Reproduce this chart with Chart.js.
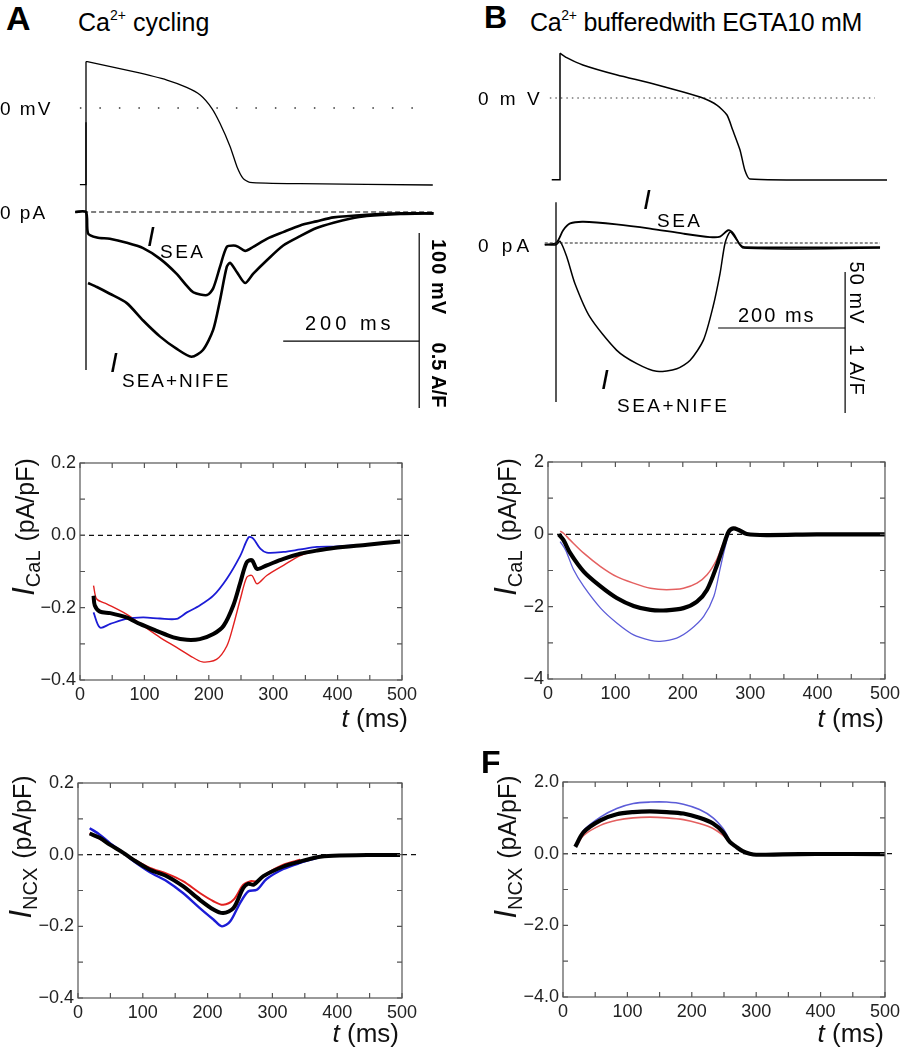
<!DOCTYPE html>
<html>
<head>
<meta charset="utf-8">
<script src="https://cdn.jsdelivr.net/npm/chart.js@4.4.1/dist/chart.umd.min.js"></script>
<style>
  body { margin: 0; background: #fff; }
  #page { position: relative; width: 904px; height: 1050px; overflow: hidden; font-family: Arial, "Liberation Sans", sans-serif; color: #000; }
  canvas { position: absolute; }
  .t { position: absolute; white-space: nowrap; line-height: 1; transform: translateY(-50%); }
  .rot { position: absolute; white-space: nowrap; line-height: 1; transform: translate(-50%, -50%) rotate(90deg); }
  .yt { position: absolute; white-space: nowrap; line-height: 1; transform: translate(-50%, -50%) rotate(-90deg); font-size: 25px; color: #111; }
  .yt i { font-size: 31px; }
  .yt sub { font-size: 20px; vertical-align: -6px; margin-right: 2px; }
  .xt { position: absolute; white-space: nowrap; line-height: 1; transform: translate(-100%, -50%); font-size: 26px; color: #111; }
  .big { font-weight: bold; font-size: 34px; }
  .head { font-size: 25px; }
  .head sup { font-size: 14px; vertical-align: 11px; }
  .lbl { font-size: 19px; }
  .ii { font-style: italic; font-size: 28px; }
</style>
</head>
<body>
<div id="page">
  <canvas id="topA" width="450" height="380" style="left:0;top:40px"></canvas>
  <canvas id="topB" width="454" height="380" style="left:450px;top:40px"></canvas>
  <canvas id="panelC" width="450" height="300" style="left:0;top:440px"></canvas>
  <canvas id="panelD" width="454" height="300" style="left:450px;top:440px"></canvas>
  <canvas id="panelE" width="450" height="290" style="left:0;top:760px"></canvas>
  <canvas id="panelF" width="454" height="290" style="left:450px;top:760px"></canvas>

  <div class="t big" style="left:6px;top:18px">A</div>
  <div class="t head" style="left:78px;top:21px">Ca<sup>2+</sup> cycling</div>
  <div class="t big" style="left:484px;top:17px;font-size:32px">B</div>
  <div class="t head" style="left:530px;top:21px;letter-spacing:-0.3px">Ca<sup>2+</sup> bufferedwith EGTA10 mM</div>

  <div class="t lbl" style="left:0;top:108px;letter-spacing:2px">0 mV</div>
  <div class="t lbl" style="left:0;top:212px;letter-spacing:2px">0 pA</div>
  <div class="t lbl" style="left:478px;top:98px;letter-spacing:3px">0 m V</div>
  <div class="t lbl" style="left:478px;top:245px;letter-spacing:4px">0 pA</div>

  <div class="t lbl" style="left:305px;top:323px;font-size:20px;letter-spacing:4px">200 ms</div>
  <div class="t lbl" style="left:738px;top:315px;font-size:20px;letter-spacing:2px">200 ms</div>
  <div class="rot lbl" style="left:439px;top:277px;font-weight:bold;font-size:20px;letter-spacing:1px">100 mV</div>
  <div class="rot lbl" style="left:439px;top:375px;font-weight:bold;font-size:20px">0.5 A/F</div>
  <div class="rot lbl" style="left:857px;top:293px;font-size:20px;letter-spacing:1px">50 mV</div>
  <div class="rot lbl" style="left:857px;top:370px;font-size:20px;letter-spacing:1px">1 A/F</div>

  <div class="t ii" style="left:147px;top:237px">I</div>
  <div class="t lbl" style="left:160px;top:251px;letter-spacing:2.5px">SEA</div>
  <div class="t ii" style="left:110px;top:363px">I</div>
  <div class="t lbl" style="left:122px;top:380px;letter-spacing:2px">SEA+NIFE</div>
  <div class="t ii" style="left:643px;top:200px">I</div>
  <div class="t lbl" style="left:657px;top:220px;letter-spacing:2.5px">SEA</div>
  <div class="t ii" style="left:601px;top:380px">I</div>
  <div class="t lbl" style="left:617px;top:405px;letter-spacing:2.5px">SEA+NIFE</div>

  <div class="yt" style="left:25px;top:527px"><i>I</i><sub>CaL</sub> (pA/pF)</div>
  <div class="yt" style="left:507px;top:527px"><i>I</i><sub>CaL</sub> (pA/pF)</div>
  <div class="yt" style="left:22px;top:847px"><i>I</i><sub>NCX</sub> (pA/pF)</div>
  <div class="yt" style="left:507px;top:847px"><i>I</i><sub>NCX</sub> (pA/pF)</div>
  <div class="xt" style="left:408px;top:718px"><i>t</i> (ms)</div>
  <div class="xt" style="left:884px;top:718px"><i>t</i> (ms)</div>
  <div class="xt" style="left:399px;top:1033px"><i>t</i> (ms)</div>
  <div class="xt" style="left:884px;top:1033px"><i>t</i> (ms)</div>
  <div class="t big" style="left:481px;top:762px;font-size:32px">F</div>
</div>

<script>
// ---- A: Ca2+ cycling, raw traces (ms, mV, A/F)
const apA_t = [-9, 0, 0, 2, 70, 119, 148, 168, 185, 197, 212, 222, 231, 241, 315, 510];
const apA_mV = [-71, -71, 43, 43, 33.6, 25.9, 19.1, 12, -0.3, -14.2, -35.8, -54.3, -65.1, -68.8, -70.1, -71.3];
const seaA_t = [-16, 0, 3, 16, 35, 60, 84, 109, 133, 148, 158, 178, 187, 197, 207, 217, 224, 234, 246, 266, 290, 315, 339, 364, 413, 462, 511];
const seaA_i = [0, 0, -0.16, -0.19, -0.20, -0.23, -0.27, -0.35, -0.46, -0.55, -0.60, -0.62, -0.57, -0.41, -0.26, -0.25, -0.26, -0.29, -0.26, -0.20, -0.15, -0.10, -0.07, -0.04, -0.02, -0.01, -0.01];
const nifeA_t = [3, 16, 35, 60, 84, 109, 133, 155, 172, 187, 197, 207, 212, 222, 234, 246, 266, 290, 315, 339, 364, 388, 413, 462, 511];
const nifeA_i = [-0.53, -0.56, -0.61, -0.68, -0.81, -0.93, -1.02, -1.08, -1.03, -0.88, -0.66, -0.41, -0.38, -0.45, -0.53, -0.46, -0.36, -0.25, -0.18, -0.12, -0.08, -0.05, -0.03, -0.015, -0.01];
const transA_i = [0.67, -1.18];

// ---- B: Ca2+ buffered with EGTA, raw traces
const apB_t = [-13, 0, 0, 10.5, 36, 90, 142, 194, 225, 247, 263, 272, 283.5, 291, 299, 515];
const apB_mV = [-73, -73, 40, 36, 29.5, 20.5, 13.4, 5.4, 0, -6.3, -15.2, -28.6, -46.4, -64.3, -72.3, -73.2];
const seaB_t = [-24, -6, 5, 16, 37, 89, 142, 194, 236, 252, 265, 273, 283.5, 291, 504];
const seaB_i = [-0.02, 0, 0.15, 0.23, 0.25, 0.22, 0.17, 0.11, 0.07, 0.075, 0.15, 0.11, -0.02, -0.05, -0.05];
const nifeB_t = [-24, -6, 0, 10.5, 23.6, 47, 89, 121, 152, 184, 205, 226, 241, 252, 260, 268, 278, 289, 504];
const nifeB_i = [-0.02, -0.02, 0.02, -0.16, -0.48, -0.87, -1.26, -1.42, -1.51, -1.48, -1.38, -1.14, -0.75, -0.36, 0, 0.13, 0.04, -0.06, -0.06];
const transB_i = [0.48, -1.87];

// ---- C: I_CaL, Ca2+ cycling (black = mean, blue, red)
const cBlack_t = [21, 23, 31, 47, 72, 93, 119, 145, 166, 186, 207, 223, 238, 249, 259, 267, 275, 290, 316, 342, 368, 394, 446, 497];
const cBlack_v = [-0.167, -0.194, -0.211, -0.215, -0.227, -0.245, -0.264, -0.282, -0.289, -0.287, -0.273, -0.250, -0.194, -0.130, -0.074, -0.069, -0.093, -0.083, -0.065, -0.051, -0.042, -0.035, -0.026, -0.017];
const cBlue_t = [21, 31, 47, 72, 98, 124, 150, 166, 186, 207, 228, 249, 262, 269, 280, 290, 316, 342, 368, 394, 446, 497];
const cBlue_v = [-0.213, -0.255, -0.245, -0.231, -0.227, -0.230, -0.231, -0.213, -0.194, -0.167, -0.120, -0.056, -0.005, -0.009, -0.037, -0.048, -0.046, -0.039, -0.032, -0.031, -0.026, -0.017];
const cRed_t = [21, 26, 42, 72, 98, 124, 150, 171, 190, 212, 228, 238, 249, 259, 267, 275, 290, 316, 342, 368, 394];
const cRed_v = [-0.139, -0.176, -0.190, -0.218, -0.250, -0.282, -0.310, -0.333, -0.350, -0.343, -0.306, -0.250, -0.176, -0.116, -0.111, -0.134, -0.111, -0.083, -0.056, -0.042, -0.035];

// ---- D: I_CaL, EGTA buffered
const dBlack_t = [16, 23, 33, 53, 78, 102, 127, 152, 176, 201, 221, 236, 250, 260, 268, 275, 283, 295, 325, 399, 500];
const dBlack_v = [0, -0.16, -0.52, -1.03, -1.44, -1.76, -1.98, -2.09, -2.10, -2.04, -1.86, -1.53, -0.89, -0.34, 0.07, 0.165, 0.12, 0.01, -0.02, 0, 0];
const dRed_t = [18, 23, 33, 53, 78, 102, 127, 152, 176, 201, 221, 236, 250, 260, 270, 278, 285];
const dRed_v = [0.09, 0.03, -0.16, -0.52, -0.89, -1.17, -1.35, -1.49, -1.53, -1.49, -1.35, -1.12, -0.71, -0.25, 0.12, 0.19, 0.07];
const dBlue_t = [18, 26, 38, 53, 78, 102, 127, 152, 166, 191, 211, 231, 246, 255, 263, 270, 278];
const dBlue_v = [-0.2, -0.43, -0.98, -1.44, -2.04, -2.45, -2.78, -2.93, -2.96, -2.87, -2.64, -2.27, -1.72, -0.98, -0.34, 0.07, 0.17];

// ---- E: I_NCX, Ca2+ cycling
const eBlack_t = [18, 33.5, 49, 70, 85, 111, 137, 162, 188, 209, 224, 240, 255, 263, 271, 286, 317, 343, 369, 394, 446, 497];
const eBlack_v = [0.059, 0.047, 0.028, 0.005, -0.014, -0.042, -0.060, -0.088, -0.126, -0.153, -0.163, -0.149, -0.093, -0.081, -0.084, -0.060, -0.033, -0.019, -0.007, -0.003, -0.001, -0.001];
const eRed_t = [18, 49, 85, 111, 137, 162, 188, 209, 224, 240, 255, 266, 276, 291, 317, 343];
const eRed_v = [0.060, 0.028, -0.012, -0.037, -0.053, -0.074, -0.107, -0.130, -0.140, -0.126, -0.084, -0.074, -0.074, -0.053, -0.028, -0.014];
const eBlue_t = [18, 33.5, 49, 70, 85, 111, 137, 162, 188, 209, 222, 235, 250, 263, 276, 291, 317, 343, 369];
const eBlue_v = [0.074, 0.056, 0.033, 0.005, -0.017, -0.049, -0.074, -0.107, -0.149, -0.181, -0.200, -0.186, -0.135, -0.102, -0.098, -0.068, -0.040, -0.023, -0.009];

// ---- F: I_NCX, EGTA buffered
const fBlack_t = [19, 32, 58, 83.5, 109, 135, 161, 187, 212, 233, 248.5, 259, 269, 279, 290, 300, 341, 393, 500];
const fBlack_v = [0.19, 0.60, 0.93, 1.10, 1.16, 1.18, 1.16, 1.12, 1.00, 0.84, 0.60, 0.33, 0.19, 0.07, 0, -0.03, -0.02, -0.01, -0.01];
const fBlue_t = [21.6, 32, 58, 83.5, 109, 135, 161, 187, 212, 233, 248.5, 256];
const fBlue_v = [0.28, 0.65, 1.02, 1.26, 1.40, 1.44, 1.44, 1.38, 1.23, 1.00, 0.70, 0.47];
const fRed_t = [21.6, 32, 58, 83.5, 109, 135, 161, 187, 212, 233, 248.5, 256];
const fRed_v = [0.23, 0.51, 0.79, 0.93, 1.00, 1.02, 1.00, 0.95, 0.84, 0.70, 0.51, 0.37];

const xTicks = [0, 100, 200, 300, 400, 500];

const BLUE = "#1c1cd6";
const RED = "#e2201f";
const LIGHT_BLUE = "#5c5cd8";
const LIGHT_RED = "#e46060";

function pts(t, v) {
  return t.map(function (x, k) { return { x: x, y: v[k] }; });
}

function line(data, color, width, extra) {
  return Object.assign({
    data: data,
    showLine: true,
    borderColor: color,
    borderWidth: width,
    pointRadius: 0,
    fill: false,
    tension: 0.3,
  }, extra || {});
}

// action potential: rest + upstroke straight, repolarisation smooth
function apLines(t, v, width) {
  const all = pts(t, v);
  return [
    line(all.slice(0, 3), "#000", width, { yAxisID: "v", tension: 0 }),
    line(all.slice(2), "#000", width, { yAxisID: "v", tension: 0.2 }),
  ];
}

// Raw recording panels: invisible axes, geometry given in px per unit
function traceChart(id, geo, sets) {
  const c = document.getElementById(id);
  const w = c.width, h = c.height;
  return new Chart(c, {
    type: "scatter",
    data: { datasets: sets },
    options: {
      responsive: false,
      animation: false,
      devicePixelRatio: 1,
      layout: { padding: 0 },
      plugins: { legend: { display: false }, tooltip: { enabled: false } },
      scales: {
        x: { type: "linear", display: false, min: -geo.x0 / geo.pxMs, max: (w - geo.x0) / geo.pxMs },
        v: { type: "linear", display: false, min: -(h - geo.v0) / geo.pxMv, max: geo.v0 / geo.pxMv },
        i: { type: "linear", display: false, min: -(h - geo.i0) / geo.pxAF, max: geo.i0 / geo.pxAF },
      },
    },
  });
}

function scaleBar(geo, sb) {
  const xEnd = sb.t0 + sb.ms;
  const cornerPx = geo.i0 - sb.i * geo.pxAF;
  const vCorner = (geo.v0 - cornerPx) / geo.pxMv;
  return [
    line([{ x: sb.t0, y: sb.i }, { x: xEnd, y: sb.i }], "#000", 1.2, { yAxisID: "i", tension: 0 }),
    line([{ x: xEnd, y: sb.i }, { x: xEnd, y: sb.i - sb.af }], "#000", 1.2, { yAxisID: "i", tension: 0 }),
    line([{ x: xEnd, y: vCorner }, { x: xEnd, y: vCorner + sb.mv }], "#000", 1.2, { yAxisID: "v", tension: 0 }),
  ];
}

const geoA = { x0: 86, pxMs: 0.68, v0: 68, pxMv: 1.08, i0: 172, pxAF: 134 };
const geoB = { x0: 110, pxMs: 0.635, v0: 58, pxMv: 1.12, i0: 203, pxAF: 85 };

traceChart("topA", geoA, apLines(apA_t, apA_mV, 1.3).concat([
  line([{ x: -9, y: 0 }, { x: 505, y: 0 }], "#333", 1.3, { yAxisID: "v", tension: 0, borderDash: [1.5, 18] }),
  line([{ x: -16, y: 0 }, { x: 510, y: 0 }], "#000", 1.2, { yAxisID: "i", tension: 0, borderDash: [5, 3] }),
  line(pts([0, 0], transA_i), "#000", 1.3, { yAxisID: "i", tension: 0 }),
  line(pts(seaA_t, seaA_i), "#000", 2.6, { yAxisID: "i", tension: 0.25 }),
  line(pts(nifeA_t, nifeA_i), "#000", 2.6, { yAxisID: "i", tension: 0.25 }),
]).concat(scaleBar(geoA, { t0: 290, i: -0.963, ms: 200, mv: 100, af: 0.5 })));

traceChart("topB", geoB, apLines(apB_t, apB_mV, 1.5).concat([
  line([{ x: -16, y: 0 }, { x: 496, y: 0 }], "#333", 1.2, { yAxisID: "v", tension: 0, borderDash: [1.5, 4] }),
  line([{ x: -24, y: 0 }, { x: 504, y: 0 }], "#222", 1.2, { yAxisID: "i", tension: 0, borderDash: [3, 2] }),
  line(pts([-6.3, -6.3], transB_i), "#000", 1.3, { yAxisID: "i", tension: 0 }),
  line(pts(seaB_t, seaB_i), "#000", 1.8, { yAxisID: "i", tension: 0.25 }),
  line(pts(nifeB_t, nifeB_i), "#000", 1.5, { yAxisID: "i", tension: 0.25 }),
]).concat(scaleBar(geoB, { t0: 249, i: -1.0, ms: 200, mv: 50, af: 1 })));

// frame + inward ticks on all four sides
const framePlugin = {
  id: "frame",
  afterDatasetsDraw(chart, args, opts) {
    const ctx = chart.ctx, a = chart.chartArea;
    const xs = chart.scales.x, ys = chart.scales.y;
    ctx.save();
    ctx.strokeStyle = "#555";
    ctx.lineWidth = 1.2;
    ctx.strokeRect(a.left, a.top, a.right - a.left, a.bottom - a.top);
    ctx.beginPath();
    for (let v = xs.min; v <= xs.max + 1e-9; v += opts.xStep) {
      const p = xs.getPixelForValue(v);
      ctx.moveTo(p, a.bottom); ctx.lineTo(p, a.bottom - 5);
      ctx.moveTo(p, a.top); ctx.lineTo(p, a.top + 5);
    }
    for (let v = ys.min; v <= ys.max + 1e-9; v += opts.yStep) {
      const p = ys.getPixelForValue(v);
      ctx.moveTo(a.left, p); ctx.lineTo(a.left + 5, p);
      ctx.moveTo(a.right, p); ctx.lineTo(a.right - 5, p);
    }
    ctx.stroke();
    ctx.restore();
  },
};

function currentChart(id, cfg) {
  const sets = cfg.sets.slice();
  sets.push(line([{ x: 0, y: 0 }, { x: cfg.zeroEnd, y: 0 }], "#111", 1.2, { tension: 0, borderDash: [5, 4], clip: false }));
  return new Chart(document.getElementById(id), {
    type: "scatter",
    data: { datasets: sets },
    options: {
      responsive: false,
      animation: false,
      devicePixelRatio: 1,
      layout: { padding: cfg.pad },
      plugins: { legend: { display: false }, tooltip: { enabled: false }, frame: { xStep: 50, yStep: cfg.yMinor } },
      scales: {
        x: {
          type: "linear", min: 0, max: 500,
          grid: { display: false, drawTicks: false }, border: { display: false },
          afterBuildTicks: function (s) { s.ticks = xTicks.map(function (v) { return { value: v }; }); },
          ticks: { padding: 4, color: "#222", font: { family: "Arial, 'Liberation Sans'", size: 18 }, maxRotation: 0 },
          afterFit: function (s) { s.height = 40; },
        },
        y: {
          type: "linear", min: cfg.yTicks[cfg.yTicks.length - 1], max: cfg.yTicks[0],
          grid: { display: false, drawTicks: false }, border: { display: false },
          afterBuildTicks: function (s) { s.ticks = cfg.yTicks.map(function (v) { return { value: v }; }); },
          ticks: {
            padding: 4, color: "#222", font: { family: "Arial, 'Liberation Sans'", size: 18 },
            callback: function (v) { return (v < 0 ? "\u2212" : "") + Math.abs(v).toFixed(cfg.digits); },
          },
          afterFit: function (s) { s.width = cfg.yWidth; },
        },
      },
    },
    plugins: [framePlugin],
  });
}

currentChart("panelC", {
  yTicks: [0.2, 0, -0.2, -0.4], yMinor: 0.1, digits: 1, yWidth: 80, zeroEnd: 515,
  pad: { left: 0, top: 23, right: 48, bottom: 20 },
  sets: [
    line(pts(cBlack_t, cBlack_v), "#000", 4),
    line(pts(cBlue_t, cBlue_v), BLUE, 1.8),
    line(pts(cRed_t, cRed_v), RED, 1.4),
  ],
});

currentChart("panelD", {
  yTicks: [2, 0, -2, -4], yMinor: 1, digits: 0, yWidth: 98, zeroEnd: 500,
  pad: { left: 0, top: 22, right: 19, bottom: 21 },
  sets: [
    line(pts(dBlack_t, dBlack_v), "#000", 4.2),
    line(pts(dRed_t, dRed_v), LIGHT_RED, 1.5),
    line(pts(dBlue_t, dBlue_v), LIGHT_BLUE, 1.3),
  ],
});

currentChart("panelE", {
  yTicks: [0.2, 0, -0.2, -0.4], yMinor: 0.1, digits: 1, yWidth: 78, zeroEnd: 525,
  pad: { left: 0, top: 23, right: 48, bottom: 12 },
  sets: [
    line(pts(eBlack_t, eBlack_v), "#000", 4),
    line(pts(eRed_t, eRed_v), RED, 2),
    line(pts(eBlue_t, eBlue_v), BLUE, 2.4),
  ],
});

currentChart("panelF", {
  yTicks: [2, 0, -2, -4], yMinor: 1, digits: 1, yWidth: 113, zeroEnd: 514,
  pad: { left: 0, top: 22, right: 18, bottom: 13 },
  sets: [
    line(pts(fBlack_t, fBlack_v), "#000", 4.2),
    line(pts(fBlue_t, fBlue_v), LIGHT_BLUE, 1.6),
    line(pts(fRed_t, fRed_v), LIGHT_RED, 1.6),
  ],
});
</script>
</body>
</html>
